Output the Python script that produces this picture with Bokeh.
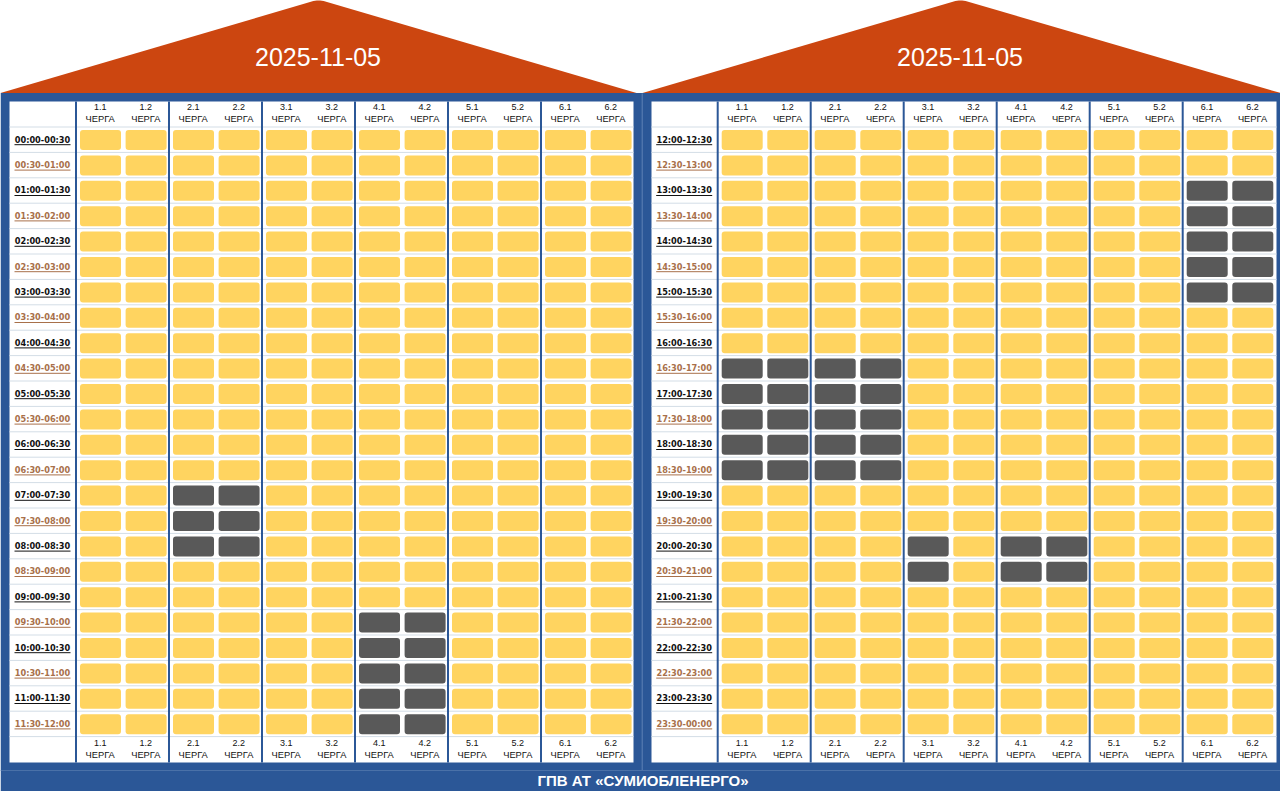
# -*- coding: utf-8 -*-
# Графік погодинних відключень: дві половини доби, 12 підчерг
from bokeh.core.properties import value
from bokeh.embed import file_html
from bokeh.models import Range1d
from bokeh.plotting import figure
from bokeh.resources import INLINE

date_label = "2025-11-05"
footer_label = "ГПВ АТ «СУМИОБЛЕНЕРГО»"
queues = ["1.1", "1.2", "2.1", "2.2", "3.1", "3.2", "4.1", "4.2", "5.1", "5.2", "6.1", "6.2"]
queue_word = "ЧЕРГА"

slots_am = ["00:00-00:30", "00:30-01:00", "01:00-01:30", "01:30-02:00", "02:00-02:30", "02:30-03:00",
            "03:00-03:30", "03:30-04:00", "04:00-04:30", "04:30-05:00", "05:00-05:30", "05:30-06:00",
            "06:00-06:30", "06:30-07:00", "07:00-07:30", "07:30-08:00", "08:00-08:30", "08:30-09:00",
            "09:00-09:30", "09:30-10:00", "10:00-10:30", "10:30-11:00", "11:00-11:30", "11:30-12:00"]
slots_pm = ["12:00-12:30", "12:30-13:00", "13:00-13:30", "13:30-14:00", "14:00-14:30", "14:30-15:00",
            "15:00-15:30", "15:30-16:00", "16:00-16:30", "16:30-17:00", "17:00-17:30", "17:30-18:00",
            "18:00-18:30", "18:30-19:00", "19:00-19:30", "19:30-20:00", "20:00-20:30", "20:30-21:00",
            "21:00-21:30", "21:30-22:00", "22:00-22:30", "22:30-23:00", "23:00-23:30", "23:30-00:00"]

# години без світла по підчергах
off_am_2 = ["07:00-07:30", "07:30-08:00", "08:00-08:30"]
off_am_4 = ["09:30-10:00", "10:00-10:30", "10:30-11:00", "11:00-11:30", "11:30-12:00"]
off_pm_6 = ["13:00-13:30", "13:30-14:00", "14:00-14:30", "14:30-15:00", "15:00-15:30"]
off_pm_1_2 = ["16:30-17:00", "17:00-17:30", "17:30-18:00", "18:00-18:30", "18:30-19:00"]
off_pm_3_4 = ["20:00-20:30", "20:30-21:00"]

outages_am = {"2.1": off_am_2, "2.2": off_am_2, "4.1": off_am_4, "4.2": off_am_4}
outages_pm = {"1.1": off_pm_1_2, "1.2": off_pm_1_2, "2.1": off_pm_1_2, "2.2": off_pm_1_2,
              "3.1": off_pm_3_4, "4.1": off_pm_3_4, "4.2": off_pm_3_4,
              "6.1": off_pm_6, "6.2": off_pm_6}

BLUE = "#2b5797"
ROOF = "#cc4610"
ON = "#ffd460"
OFF = "#595959"
LINE = "#d3dde6"
SANS = value("Liberation Sans")
BOLD = value("DejaVu Sans")

# вісь у пікселях еталона
p = figure(width=1280, height=791, output_backend="svg", toolbar_location=None,
           x_range=Range1d(0, 1280), y_range=Range1d(791, 0),
           x_axis_type=None, y_axis_type=None, min_border=0, outline_line_color=None)
p.grid.visible = False

# каркас
p.quad(left=[0], right=[1280], top=[92.5], bottom=[791], fill_color=BLUE, line_color=None)
p.patch([0, 318, 636], [92.5, -1, 92.5], fill_color=ROOF, line_color=None)
p.patch([642, 960, 1280], [92.5, -1, 92.5], fill_color=ROOF, line_color=None)
p.segment([641.7], [93], [641.7], [770], line_color="#5f82b5", line_width=1)
p.segment([0], [770], [1280], [770], line_color="#4a71a8", line_width=1)
p.text([317.5, 959.5], [56.5, 56.5], text=[date_label, date_label], text_color="white", text_align="center",
       text_baseline="middle", text_font=SANS, text_font_size="25px")
p.text([642.5], [780], text=[footer_label], text_color="white", text_align="center",
       text_baseline="middle", text_font=SANS, text_font_style="bold",
       text_font_size="15px")


def draw_panel(x0, panel_left, panel_right, slots, outages):
    p.quad(left=[panel_left], right=[panel_right], top=[101], bottom=[762],
           fill_color="white", line_color=None)

    # рядки
    line_y = [126.5 + 25.4 * i for i in range(len(slots) + 1)]
    p.segment([panel_left] * len(line_y), line_y, [panel_right] * len(line_y), line_y,
              line_color=LINE, line_width=1)

    # клітинки
    lefts, rights, tops, bottoms, colors = [], [], [], [], []
    for q, queue in enumerate(queues):
        left = x0 + 3.5 + 93 * (q // 2) + 45.6 * (q % 2)
        for r, slot in enumerate(slots):
            lefts.append(left)
            rights.append(left + 41)
            tops.append(129.5 + 25.4 * r)
            bottoms.append(149.5 + 25.4 * r)
            colors.append(OFF if slot in outages.get(queue, []) else ON)
    p.quad(left=lefts, right=rights, top=tops, bottom=bottoms, fill_color=colors,
           line_color=None, border_radius=3)

    # роздільники черг
    sep_x = [x0 - 0.5 + 93 * i for i in range(6)]
    p.segment(sep_x, [101] * 6, sep_x, [762] * 6, line_color=BLUE, line_width=2)

    # заголовки зверху і знизу
    head_x = [x0 + 23.7 + 93 * (q // 2) + 45.6 * (q % 2) for q in range(len(queues))]
    for y_num, y_word in [(106.5, 118.5), (742, 754.5)]:
        p.text(head_x, [y_num] * len(queues), text=queues, text_color="#111111", text_align="center",
               text_baseline="middle", text_font=SANS, text_font_size="9px")
        p.text(head_x, [y_word] * len(queues), text=[queue_word] * len(queues), text_color="#111111",
               text_align="center", text_baseline="middle", text_font=SANS,
               text_font_size="9.3px")

    # часові підписи, непарні рядки коричневі
    label_x = [x0 - 34] * len(slots)
    label_y = [139 + 25.4 * r for r in range(len(slots))]
    label_colors = ["#111111" if r % 2 == 0 else "#a8704a" for r in range(len(slots))]
    p.text(label_x, label_y, text=slots, text_color=label_colors, text_align="center",
           text_baseline="middle", text_font=BOLD, text_font_style="bold",
           text_font_size="8.2px")
    p.segment([x0 - 62] * len(slots), [y + 5.2 for y in label_y],
              [x0 - 6] * len(slots), [y + 5.2 for y in label_y],
              line_color=label_colors, line_width=1)


draw_panel(76, 9, 633, slots_am, outages_am)
draw_panel(717.7, 651, 1276, slots_pm, outages_pm)

open("out.html", "w").write(file_html(p, INLINE))
